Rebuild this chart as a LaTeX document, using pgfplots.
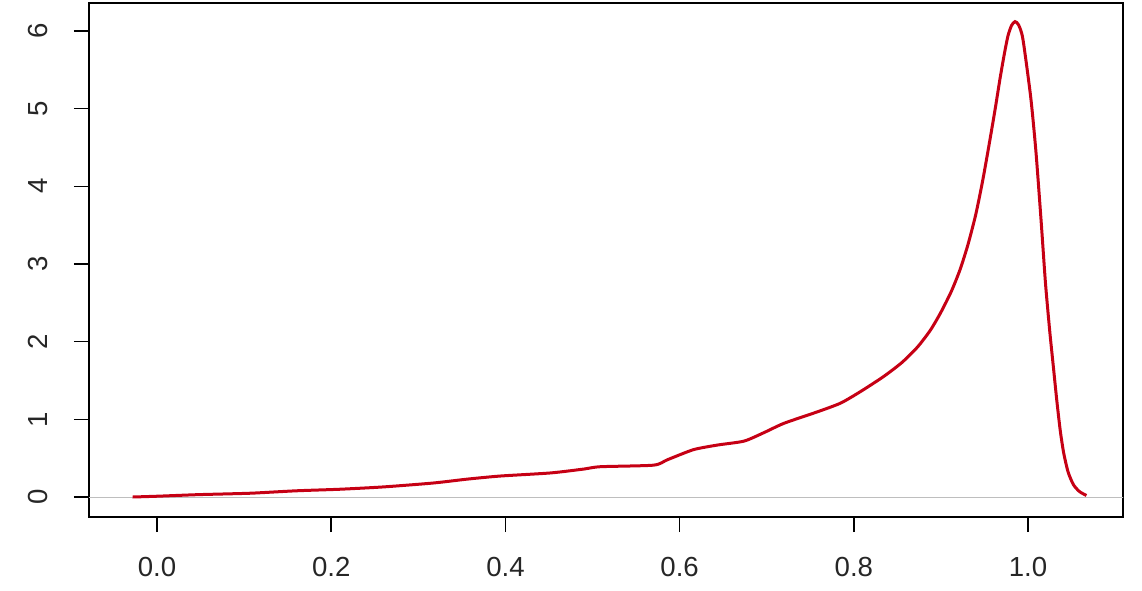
\documentclass[border=0pt]{standalone}
\usepackage{fontspec}
\setmainfont{Liberation Sans}
\usepackage{pgfplots}
\pgfplotsset{compat=1.18}
\usetikzlibrary{calc}
\definecolor{dred}{RGB}{198,0,20}
\definecolor{lgray}{RGB}{190,190,190}
\begin{document}
\begin{tikzpicture}
\begin{axis}[
  name=ax,
  scale only axis,
  width=517pt, height=257pt,
  xmin=-0.0781, xmax=1.109,
  ymin=-0.2575, ymax=6.36,
  axis line style={black, line width=0.8pt},
  tick style={black, line width=0.8pt},
  tick align=outside,
  major tick length=7.5pt,
  xtick={0,0.2,0.4,0.6,0.8,1.0},
  xticklabels={0.0,0.2,0.4,0.6,0.8,1.0},
  ytick={0,1,2,3,4,5,6},
  yticklabels={0,1,2,3,4,5,6},
  xtick pos=bottom, ytick pos=left,
  /pgf/number format/assume math mode=true,
  ticklabel style={font=\fontsize{13.8}{16}\selectfont, text=black!85, inner sep=0pt},
  xticklabel style={anchor=north},
  yticklabel style={rotate=90, anchor=south},
  xticklabel shift=12.5pt,
  yticklabel shift=13pt,
  clip=true,
]
\addplot[lgray, line width=0.5pt] coordinates {(-0.2,0) (1.3,0)};
\addplot[dred, line width=1.5pt, smooth, tension=0.4] coordinates {
(-0.028,0.00) (0.00,0.01) (0.046,0.03) (0.08,0.04) (0.11,0.05) (0.16,0.08)
(0.21,0.10) (0.26,0.13) (0.317,0.18) (0.356,0.23) (0.394,0.27) (0.452,0.31)
(0.49,0.36) (0.509,0.39) (0.570,0.41) (0.586,0.48) (0.616,0.61) (0.644,0.67)
(0.674,0.72) (0.697,0.83) (0.720,0.95) (0.759,1.10) (0.785,1.21) (0.808,1.36)
(0.834,1.55) (0.855,1.73) (0.873,1.93) (0.888,2.15) (0.900,2.38) (0.912,2.65)
(0.922,2.93) (0.931,3.25) (0.940,3.64) (0.948,4.08) (0.955,4.52) (0.962,4.98)
(0.968,5.40) (0.973,5.72) (0.977,5.94) (0.981,6.07)
(0.985,6.12) (0.989,6.08) (0.994,5.90) (1.003,5.15) (1.009,4.45) (1.015,3.55)
(1.020,2.75) (1.025,2.12) (1.029,1.68) (1.033,1.24) (1.037,0.85) (1.041,0.56)
(1.046,0.32) (1.052,0.16) (1.059,0.07) (1.067,0.02)
};
\end{axis}
\pgfresetboundingbox
\path ($(ax.south west)+(-44.5pt,-36.5pt)$) rectangle ($(ax.north east)+(9.5pt,1.5pt)$);
\end{tikzpicture}
\end{document}
